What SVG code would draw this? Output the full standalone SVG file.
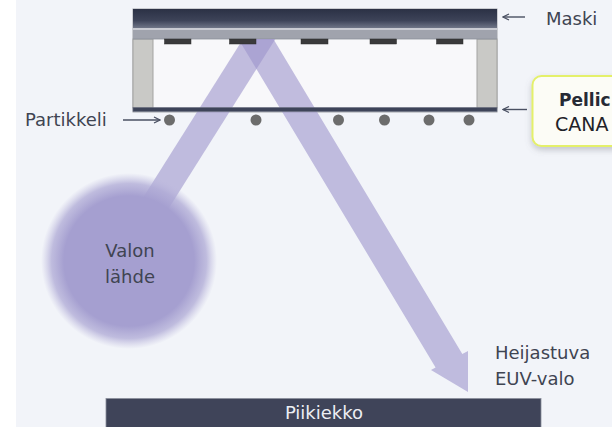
<svg xmlns="http://www.w3.org/2000/svg" width="612" height="427" viewBox="0 0 612 427">
  <style>
    .lbl { font-family: "DejaVu Sans", "Liberation Sans", sans-serif; font-size: 18px; fill: #3f4452; }
    .lead { fill: none; stroke: #4a5062; stroke-width: 1.4; }
    .absorber { fill: #3a3a3b; stroke: #2c2c2c; stroke-width: 0.5; }
    .pillar { fill: #c9c9c6; stroke: #a3a3a1; stroke-width: 1; }
    .particle { fill: #6c6c6c; }
    .beam { fill: #9d94cc; fill-opacity: 0.6; }
  </style>
  <defs>
    <linearGradient id="maskTop" x1="0" y1="0" x2="0" y2="1">
      <stop offset="0" stop-color="#2b3145"/>
      <stop offset="0.6" stop-color="#3d4358"/>
      <stop offset="1" stop-color="#6f7587"/>
    </linearGradient>
    <radialGradient id="glow" cx="0.5" cy="0.5" r="0.5">
      <stop offset="0" stop-color="#a59fd0"/>
      <stop offset="0.74" stop-color="#a59fd0"/>
      <stop offset="0.88" stop-color="#aea9d5" stop-opacity="0.75"/>
      <stop offset="1" stop-color="#bdb9dd" stop-opacity="0"/>
    </radialGradient>
    <filter id="shadow" x="-20%" y="-30%" width="140%" height="170%">
      <feDropShadow dx="0" dy="3" stdDeviation="3" flood-color="#6b6f7a" flood-opacity="0.35"/>
    </filter>
    <marker id="head" viewBox="0 0 8 8" refX="7" refY="4" markerWidth="8" markerHeight="8" markerUnits="userSpaceOnUse" orient="auto">
      <path d="M1,1 L7,4 L1,7" fill="none" stroke="#4a5062" stroke-width="1.3"/>
    </marker>
  </defs>

  <!-- page -->
  <rect x="0" y="0" width="612" height="427" fill="#ffffff"/>
  <rect x="16" y="0" width="596" height="427" fill="#f2f4f9"/>

  <!-- photomask with pellicle frame -->
  <g id="mask">
    <rect x="133" y="9" width="364" height="103" fill="#f8f8fa" stroke="#a2a4aa" stroke-width="1"/>
    <rect x="133" y="39" width="20" height="69" class="pillar"/>
    <rect x="477" y="39" width="20" height="69" class="pillar"/>
    <rect x="133" y="9" width="364" height="19" fill="url(#maskTop)"/>
    <rect x="133" y="28" width="364" height="2" fill="#c9cbd2"/>
    <rect x="133" y="30" width="364" height="9" fill="#a0a3ad"/>
    <line x1="133" y1="39" x2="497" y2="39" stroke="#8c8f99" stroke-width="0.8"/>
  </g>

  <!-- EUV beams: incident and reflected -->
  <g id="connectors">
    <polygon id="incident-beam" class="beam" points="243,39 275.4,39 148.8,240 116.4,240"/>
    <polygon id="reflected-beam" class="beam" points="238.4,39 273.4,39 462.3,353.9 468,351 468,392 431,370 435.6,367.6"/>
    <line id="lead-mask" class="lead" x1="525" y1="17" x2="503" y2="17" marker-end="url(#head)"/>
    <line id="lead-pellicle" class="lead" x1="527" y1="109.5" x2="503" y2="109.5" marker-end="url(#head)"/>
    <line id="lead-particle" class="lead" x1="123" y1="120" x2="160" y2="120" marker-end="url(#head)"/>
  </g>

  <!-- absorber pattern on the mask -->
  <g id="absorbers">
    <rect class="absorber" x="164.5" y="39" width="26.5" height="5"/>
    <rect class="absorber" x="229.5" y="39" width="26.5" height="5"/>
    <rect class="absorber" x="301" y="39" width="27" height="5"/>
    <rect class="absorber" x="370" y="39" width="26.5" height="5"/>
    <rect class="absorber" x="436.5" y="39" width="26.5" height="5"/>
  </g>

  <!-- pellicle membrane -->
  <g id="pellicle">
    <rect x="133" y="107.5" width="364" height="4" fill="#3e4459" stroke="#6a6f80" stroke-width="0.6"/>
  </g>

  <!-- particles on the pellicle -->
  <g id="particles">
    <circle class="particle" cx="169.5" cy="120" r="5.5"/>
    <circle class="particle" cx="256" cy="120" r="5.5"/>
    <circle class="particle" cx="338.5" cy="120" r="5.5"/>
    <circle class="particle" cx="384.5" cy="120" r="5.5"/>
    <circle class="particle" cx="429" cy="120" r="5.5"/>
    <circle class="particle" cx="469" cy="120" r="5.5"/>
  </g>

  <!-- light source -->
  <g id="light-source">
    <circle cx="129" cy="261" r="88" fill="url(#glow)"/>
    <text class="lbl" x="130" y="257" text-anchor="middle">Valon</text>
    <text class="lbl" x="130" y="283" text-anchor="middle">lähde</text>
  </g>

  <!-- wafer -->
  <g id="wafer">
    <rect x="106" y="398.5" width="435" height="30" fill="#3f4459" stroke="#8a8e9c" stroke-width="0.8"/>
    <text x="324" y="419" text-anchor="middle" font-family="DejaVu Sans, Liberation Sans, sans-serif" font-size="18" fill="#eceef3">Piikiekko</text>
  </g>

  <!-- labels -->
  <g id="label-mask">
    <text class="lbl" x="546" y="24.5">Maski</text>
  </g>
  <g id="label-particle">
    <text class="lbl" x="25" y="126">Partikkeli</text>
  </g>
  <g id="label-euv">
    <text class="lbl" x="495" y="359">Heijastuva</text>
    <text class="lbl" x="495" y="385">EUV-valo</text>
  </g>
  <g id="callout-pellicle">
    <rect x="532.5" y="76" width="100" height="70" rx="9" ry="9" fill="#fcfcf6" stroke="#e4f06a" stroke-width="2" filter="url(#shadow)"/>
    <text x="559" y="106" font-family="DejaVu Sans, Liberation Sans, sans-serif" font-size="17" font-weight="bold" fill="#262a35">Pellic</text>
    <text x="555" y="130.5" font-family="DejaVu Sans, Liberation Sans, sans-serif" font-size="19" fill="#1f2228">CANA</text>
  </g>
</svg>
